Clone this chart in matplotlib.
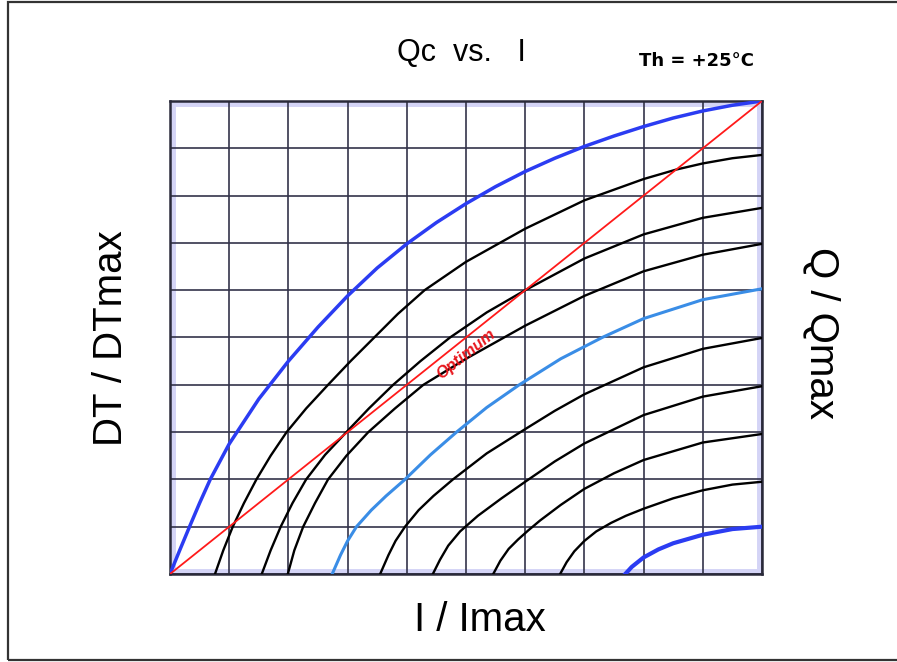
import numpy as np
import matplotlib.pyplot as plt
import matplotlib.ticker as mticker
from matplotlib.patches import Rectangle

plt.rcParams['font.family'] = ['Liberation Sans', 'DejaVu Sans']

# curves: I/Imax (x) and DT/DTmax (y)
i_b0  = [0.0, 0.017, 0.033, 0.05, 0.068, 0.10, 0.15, 0.20, 0.25, 0.30, 0.35, 0.40, 0.45,
         0.50, 0.55, 0.60, 0.65, 0.70, 0.75, 0.80, 0.85, 0.90, 0.95, 1.0]
dt_b0 = [0.0, 0.052, 0.10, 0.15, 0.20, 0.275, 0.37, 0.45, 0.522, 0.588, 0.647, 0.698, 0.743,
         0.783, 0.819, 0.851, 0.879, 0.904, 0.926, 0.946, 0.964, 0.979, 0.991, 1.0]

i_k1  = [0.076, 0.09, 0.106, 0.125, 0.146, 0.17, 0.197, 0.23, 0.267, 0.305, 0.345, 0.385, 0.43,
         0.50, 0.60, 0.70, 0.80, 0.855, 0.90, 0.95, 1.0]
dt_k1 = [0.0, 0.05, 0.10, 0.15, 0.20, 0.25, 0.30, 0.35, 0.40, 0.45, 0.50, 0.55, 0.60,
         0.66, 0.73, 0.79, 0.835, 0.855, 0.868, 0.879, 0.886]

i_k2  = [0.155, 0.17, 0.187, 0.207, 0.23, 0.262, 0.298, 0.336, 0.377, 0.423, 0.473, 0.535,
         0.60, 0.70, 0.80, 0.90, 1.0]
dt_k2 = [0.0, 0.05, 0.10, 0.15, 0.20, 0.252, 0.30, 0.35, 0.40, 0.45, 0.50, 0.553,
         0.60, 0.667, 0.718, 0.753, 0.774]

i_k3  = [0.199, 0.21, 0.225, 0.245, 0.267, 0.298, 0.335, 0.38, 0.428, 0.50, 0.60, 0.70,
         0.80, 0.90, 1.0]
dt_k3 = [0.0, 0.05, 0.10, 0.15, 0.20, 0.25, 0.30, 0.35, 0.40, 0.455, 0.525, 0.588,
         0.64, 0.675, 0.698]

i_lb  = [0.274, 0.288, 0.30, 0.315, 0.34, 0.365, 0.397, 0.44, 0.484, 0.535, 0.59, 0.66,
         0.73, 0.80, 0.90, 1.0]
dt_lb = [0.0, 0.04, 0.07, 0.10, 0.135, 0.165, 0.20, 0.252, 0.30, 0.352, 0.40, 0.455,
         0.50, 0.54, 0.58, 0.603]

i_k4  = [0.355, 0.369, 0.381, 0.397, 0.42, 0.445, 0.478, 0.535, 0.597, 0.65, 0.70, 0.80, 0.90, 1.0]
dt_k4 = [0.0, 0.04, 0.07, 0.10, 0.135, 0.165, 0.20, 0.255, 0.304, 0.345, 0.38, 0.437, 0.476, 0.499]

i_k5  = [0.444, 0.456, 0.47, 0.49, 0.52, 0.56, 0.60, 0.65, 0.70, 0.80, 0.90, 1.0]
dt_k5 = [0.0, 0.03, 0.06, 0.09, 0.123, 0.16, 0.195, 0.238, 0.276, 0.336, 0.375, 0.397]

i_k6  = [0.546, 0.558, 0.572, 0.588, 0.605, 0.625, 0.66, 0.70, 0.75, 0.80, 0.90, 1.0]
dt_k6 = [0.0, 0.028, 0.053, 0.073, 0.092, 0.113, 0.146, 0.18, 0.213, 0.241, 0.278, 0.296]

i_k7  = [0.659, 0.67, 0.683, 0.70, 0.72, 0.745, 0.77, 0.80, 0.85, 0.90, 0.95, 1.0]
dt_k7 = [0.0, 0.025, 0.048, 0.07, 0.09, 0.108, 0.123, 0.138, 0.16, 0.177, 0.189, 0.195]

i_b9  = [0.769, 0.78, 0.80, 0.825, 0.85, 0.90, 0.95, 1.0]
dt_b9 = [0.0, 0.015, 0.035, 0.052, 0.065, 0.083, 0.095, 0.10]

i_opt  = [0.0, 1.0]
dt_opt = [0.0, 1.0]

black_curves = [(i_k1, dt_k1), (i_k2, dt_k2), (i_k3, dt_k3), (i_k4, dt_k4),
                (i_k5, dt_k5), (i_k6, dt_k6), (i_k7, dt_k7)]


def draw_chart(figname):

    fig = plt.figure(figsize=[8.97, 6.62], dpi=100)
    ax = fig.add_axes([170/897, 1-574/662, 592/897, 473/662])

    # outer frame of the picture
    fig.patches.append(Rectangle((8/897, 2/662), 1.0, 658/662, transform=fig.transFigure,
                                 fill=False, edgecolor='#333333', linewidth=1.6))

    ax.set_xlim(0, 1)
    ax.set_ylim(0, 1)
    ax.xaxis.set_major_locator(mticker.MultipleLocator(0.1))
    ax.yaxis.set_major_locator(mticker.MultipleLocator(0.1))
    ax.tick_params(length=0, labelbottom=False, labelleft=False)
    ax.grid(color='#34344a', linewidth=1.2)
    for sp in ax.spines.values():
        sp.set_color('#2a2a3a')
        sp.set_linewidth(1.8)
    # faint lavender glow along the inner edge
    ax.add_patch(Rectangle((0.004, 0.004), 0.992, 0.992, transform=ax.transAxes, fill=False,
                           edgecolor='#d4d4f6', linewidth=5, zorder=1))

    for xs, ys in black_curves:
        ax.plot(xs, ys, color='black', linewidth=1.7, zorder=3, solid_joinstyle='round')
    ax.plot(i_lb, dt_lb, color='#3a8de6', linewidth=2.2, zorder=3, solid_joinstyle='round')
    ax.plot(i_b0, dt_b0, color='#2b3cf2', linewidth=2.5, zorder=3, solid_joinstyle='round')
    ax.plot(i_b9, dt_b9, color='#2b3cf2', linewidth=3.0, zorder=3, solid_joinstyle='round')
    ax.plot(i_opt, dt_opt, color='#ff1a1a', linewidth=1.3, zorder=4)

    ax.text(0.5, 0.465, 'Optimum', color='#e8161c', fontsize=11.5, fontstyle='italic',
            fontweight='bold', rotation=38.6, ha='center', va='center',
            rotation_mode='anchor', zorder=5)

    fig.text(461/897, 1-53/662, 'Qc  vs.   I', fontsize=22, ha='center', va='center')
    fig.text(696/897, 1-61/662, 'Th = +25°C', fontsize=13, fontweight='bold',
             family='DejaVu Sans', ha='center', va='center')
    fig.text(111/897, 1-338/662, 'DT / DTmax', fontsize=29, rotation=90, ha='center', va='center')
    fig.text(822/897, 1-333/662, 'Q / Qmax', fontsize=29, rotation=-90, ha='center', va='center')
    fig.text(480/897, 1-620/662, 'I / Imax', fontsize=29, ha='center', va='center')

    fig.savefig(figname, dpi=100)


draw_chart('out.png')
